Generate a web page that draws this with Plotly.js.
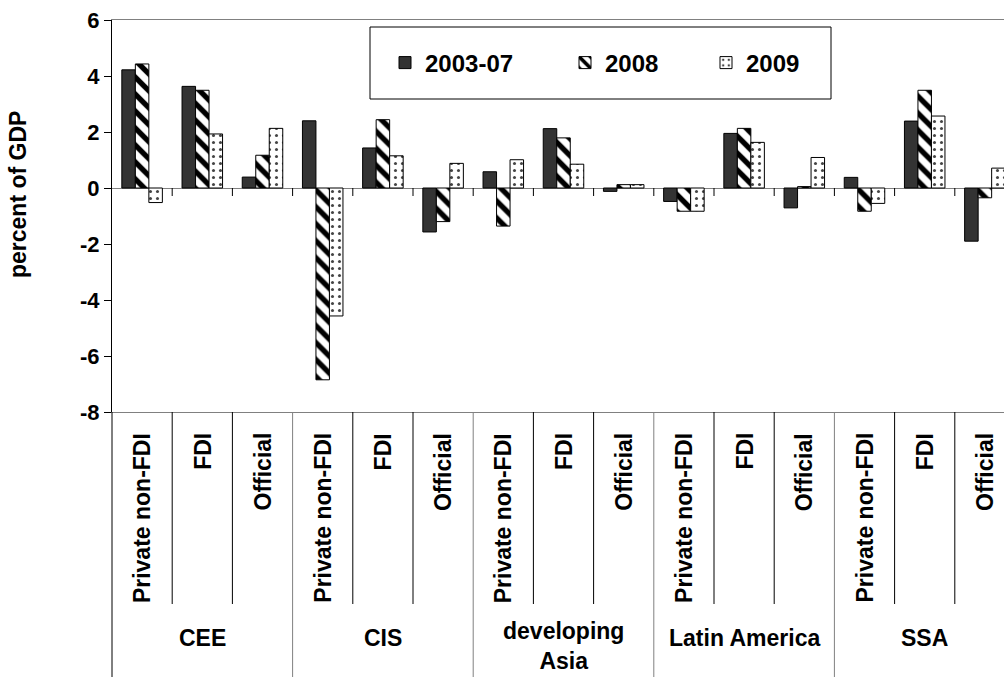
<!DOCTYPE html>
<html>
<head>
<meta charset="utf-8">
<script src="https://cdn.plot.ly/plotly-3.0.1.min.js"></script>
<style>html,body{margin:0;padding:0;background:#fff;}#chart{width:1004px;height:677px;}</style>
</head>
<body>
<div id="chart"></div>
<script>
// ---- data ----
const regions = ['CEE', 'CIS', 'developing<br>Asia', 'Latin America', 'SSA'];
const flows = ['Private non-FDI', 'FDI', 'Official'];
const seriesNames = ['2003-07', '2008', '2009'];
const v2003_07 = [4.22, 3.63, 0.39,  2.40, 1.43, -1.57,  0.58, 2.12, -0.12,  -0.48, 1.95, -0.71,  0.38, 2.39, -1.90];
const v2008    = [4.43, 3.49, 1.17, -6.85, 2.44, -1.20, -1.36, 1.79,  0.12,  -0.83, 2.13,  0.05, -0.83, 3.49, -0.35];
const v2009    = [-0.52, 1.93, 2.13, -4.57, 1.15, 0.88,  1.01, 0.85,  0.12,  -0.83, 1.63,  1.09, -0.55, 2.57,  0.71];
const yTicks = [-8, -6, -4, -2, 0, 2, 4, 6];

// ---- build ----
const FONT = 'Liberation Sans, Arial, Helvetica, sans-serif';
const B = s => '<b>' + s.split('<br>').join('</b><br><b>') + '</b>';
const nCat = regions.length * flows.length;
const xs = [];
for (let r = 0; r < regions.length; r++) for (let f = 0; f < flows.length; f++) xs.push(r * flows.length + f);

const PLOT_L = 112, PLOT_T = 20, PLOT_B = 412, W = 1004, H = 677;
const plotH = PLOT_B - PLOT_T, plotW = W - PLOT_L;
const py = p => (PLOT_B - p) / plotH;      // pixel y -> paper y
const px = p => (p - PLOT_L) / plotW;      // pixel x -> paper x
const catW = 60.2;
const xMax = -0.5 + plotW / catW;

const line = {color: '#000', width: 1};
const traces = [
  {type: 'bar', name: B(seriesNames[0]), x: xs, y: v2003_07, legend: 'legend',
   marker: {color: '#333333', line: line}},
  {type: 'bar', name: B(seriesNames[1]), x: xs, y: v2008, legend: 'legend2',
   marker: {color: '#ffffff', line: line,
            pattern: {shape: '\\', fgcolor: '#000', bgcolor: '#fff', size: 12, solidity: 0.45}}},
  {type: 'bar', name: B(seriesNames[2]), x: xs, y: v2009, legend: 'legend3',
   marker: {color: '#ffffff', line: line,
            pattern: {shape: '.', fgcolor: '#444', bgcolor: '#fff', size: 7, solidity: 0.15}}}
];

const shapes = [];
const annotations = [];
// tick marks on the zero line at category boundaries
for (let k = 1; k < nCat; k++) {
  shapes.push({type: 'line', xref: 'x', yref: 'y', ysizemode: 'pixel', yanchor: 0,
               x0: k - 0.5, x1: k - 0.5, y0: 0, y1: -8, line: {color: '#000', width: 1}});
}
// table dividers below plot
for (let k = 1; k <= nCat; k++) {
  const isRegion = (k % flows.length === 0);
  shapes.push({type: 'line', xref: 'x', yref: 'paper', x0: k - 0.5, x1: k - 0.5,
               y0: 0, y1: isRegion ? py(H) : py(604),
               line: {color: isRegion ? '#808080' : '#000', width: 1}});
}
// y axis line extending through the table
shapes.push({type: 'line', xref: 'paper', yref: 'paper', x0: 0, x1: 0, y0: 0, y1: py(H),
             line: {color: '#000', width: 1}});
// legend box
shapes.push({type: 'rect', xref: 'paper', yref: 'paper', x0: px(370), x1: px(831), y0: py(99), y1: py(27),
             line: {color: '#000', width: 1}, fillcolor: 'rgba(0,0,0,0)'});

// inner labels
for (let i = 0; i < nCat; i++) {
  annotations.push({xref: 'x', yref: 'paper', x: xs[i], y: py(431), yanchor: 'top', xanchor: 'center',
                    text: B(flows[i % flows.length]), textangle: -90, showarrow: false,
                    font: {family: FONT, size: 23, color: '#000'}});
}
// region labels
for (let r = 0; r < regions.length; r++) {
  const multi = regions[r].indexOf('<br>') >= 0;
  annotations.push({xref: 'x', yref: 'paper', x: r * flows.length + 1,
                    y: multi ? py(676) : py(638), yanchor: multi ? 'bottom' : 'middle', xanchor: 'center',
                    text: B(regions[r]), showarrow: false,
                    font: {family: FONT, size: 23, color: '#000'}});
}
// y title
annotations.push({xref: 'paper', yref: 'paper', x: px(18), y: py(195), xanchor: 'center', yanchor: 'middle',
                  text: B('percent of GDP'), textangle: -90, showarrow: false,
                  font: {family: FONT, size: 23, color: '#000'}});

const legFont = {family: FONT, size: 24, color: '#000'};
const mkLeg = (x) => ({x: px(x), y: py(63), xanchor: 'left', yanchor: 'middle', orientation: 'h',
                       bgcolor: 'rgba(0,0,0,0)', borderwidth: 0, font: legFont});

const layout = {
  width: W, height: H, autosize: false,
  margin: {l: PLOT_L, r: 0, t: PLOT_T, b: H - PLOT_B, pad: 0},
  paper_bgcolor: '#fff', plot_bgcolor: '#fff',
  barmode: 'group', bargap: 0.327, bargroupgap: 0,
  showlegend: true,
  legend: mkLeg(385), legend2: mkLeg(565), legend3: mkLeg(706),
  xaxis: {type: 'linear', range: [-0.5, xMax], showticklabels: false, ticks: '',
          showgrid: false, zeroline: false, showline: true, linecolor: '#808080', linewidth: 1, mirror: true,
          fixedrange: true},
  yaxis: {range: [-8, 6], tickvals: yTicks, ticktext: yTicks.map(v => B(String(v))), ticks: 'outside', ticklen: 7,
          tickcolor: '#000', tickwidth: 1, showgrid: false, showline: true, linecolor: '#000', linewidth: 1,
          zeroline: true, zerolinecolor: '#808080', zerolinewidth: 1,
          tickfont: {family: FONT, size: 22, color: '#000'}, fixedrange: true},
  shapes: shapes, annotations: annotations
};

Plotly.newPlot('chart', traces, layout, {displayModeBar: false, staticPlot: true});
</script>
</body>
</html>
